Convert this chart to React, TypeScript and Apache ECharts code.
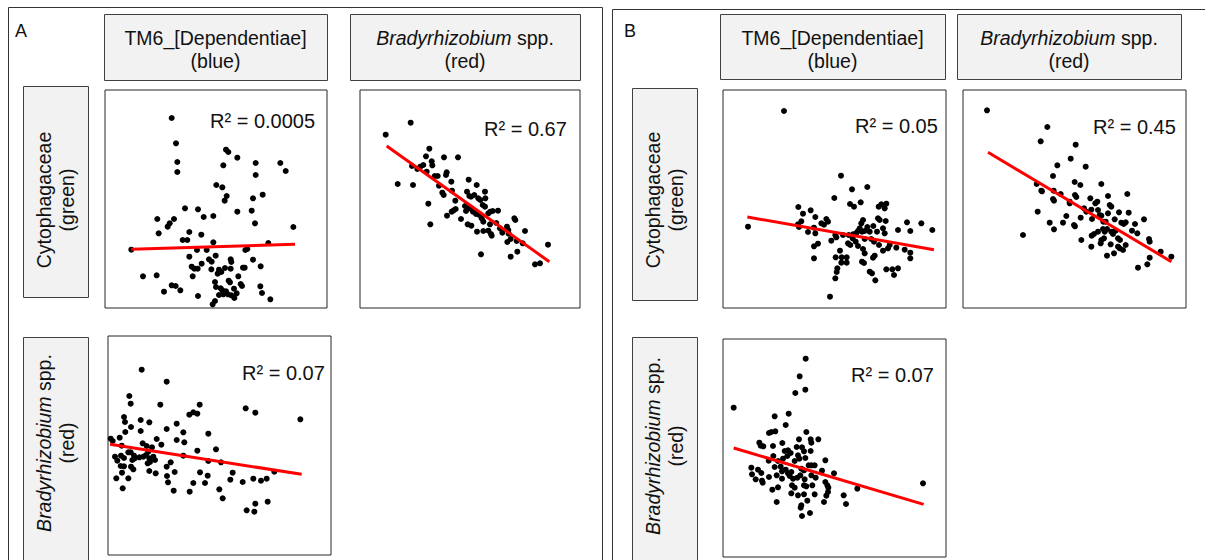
import React, { useEffect, useRef } from 'react';
import * as echarts from 'echarts';

const FONT = '"Liberation Sans", Arial, Helvetica, sans-serif';

// ---------- data (arbitrary abundance units) ----------
// Panel A: TM6 (x) vs Cytophagaceae (y)
const aTm6Cyto: number[][] = [
  [215,99],[228,175],[232,231],[232,261],[378,194],[385,201],[412,218],[370,241],[467,234],[467,270],
  [541,234],[557,258],[349,300],[367,307],[380,333],[374,347],[459,340],[488,329],[255,370],[294,373],
  [412,380],[455,377],[311,396],[340,393],[172,402],[222,402],[209,415],[203,425],[176,445],[268,441],
  [304,449],[465,415],[580,426],[248,465],[262,465],[340,472],[505,474],[94,494],[291,495],[320,495],
  [436,495],[442,492],[268,515],[347,512],[327,523],[335,530],[459,524],[392,523],[394,531],[275,545],
  [283,551],[293,551],[305,536],[334,553],[357,554],[353,566],[364,561],[375,549],[392,551],[429,548],
  [434,548],[482,544],[129,574],[170,571],[278,574],[415,574],[345,591],[386,587],[390,592],[422,597],
  [426,603],[215,601],[227,603],[241,616],[192,620],[348,606],[362,610],[367,616],[402,611],[410,625],
  [481,604],[486,624],[294,633],[357,630],[370,628],[384,628],[394,631],[403,639],[511,643],[345,648],
  [338,658],[378,619]
];
const aTm6CytoFit: number[][] = [[94,493],[585,478]];

// Panel A: Bradyrhizobium (x) vs Cytophagaceae (y)
const aBradyCyto: number[][] = [
  [92,149],[167,113],[128,297],[174,300],[223,191],[213,214],[230,229],[232,241],[267,217],[309,217],
  [171,243],[187,252],[196,245],[205,240],[215,260],[239,273],[248,273],[275,262],[273,270],[289,290],
  [252,302],[262,323],[266,330],[291,317],[301,347],[220,356],[226,418],[276,392],[290,380],[296,376],
  [302,372],[318,402],[341,284],[365,300],[336,320],[343,333],[348,335],[358,330],[370,340],[376,345],
  [390,320],[391,340],[383,360],[390,365],[330,363],[333,378],[340,370],[350,373],[360,380],[373,390],
  [380,400],[385,410],[400,385],[406,380],[413,378],[429,377],[338,418],[349,422],[366,440],[385,438],
  [400,437],[408,447],[410,452],[405,418],[424,414],[435,430],[442,443],[456,425],[460,435],[478,400],
  [481,405],[461,446],[467,462],[457,471],[485,468],[510,438],[503,475],[487,500],[467,515],[378,508],
  [579,479],[540,538],[555,535],[354,380],[363,387]
];
const aBradyCytoFit: number[][] = [[95,183],[583,530]];

// Panel A: TM6 (x) vs Bradyrhizobium (y)
const aTm6Brady: number[][] = [
  [125,119],[200,155],[88,198],[92,221],[181,224],[72,261],[75,276],[93,291],[122,270],[148,277],
  [122,303],[76,306],[59,323],[32,326],[38,333],[65,347],[128,340],[140,348],[156,352],[170,327],
  [184,344],[200,297],[230,281],[250,307],[230,330],[253,337],[268,254],[280,247],[292,251],[299,224],
  [325,311],[292,362],[348,358],[437,235],[466,248],[601,268],[45,380],[52,392],[63,377],[72,384],
  [85,367],[92,367],[102,377],[97,390],[104,385],[118,382],[130,380],[138,375],[145,365],[148,385],
  [150,396],[160,380],[165,390],[143,400],[62,408],[72,409],[93,410],[100,418],[66,428],[49,445],
  [85,445],[68,475],[148,423],[167,430],[200,410],[212,397],[224,426],[201,438],[204,457],[221,482],
  [269,485],[280,459],[250,377],[300,427],[323,437],[315,459],[325,393],[363,397],[398,428],[391,449],
  [358,478],[368,505],[428,456],[460,446],[483,452],[500,446],[523,425],[440,541],[466,521],[463,545],
  [503,515]
];
const aTm6BradyFit: number[][] = [[30,343],[605,433]];

// Panel B: TM6 (x) vs Cytophagaceae (y)
const bTm6Cyto: number[][] = [
  [198,78],[369,272],[402,313],[448,306],[349,339],[396,357],[408,365],[428,352],[90,425],[241,366],
  [255,386],[278,376],[292,396],[250,409],[240,418],[243,426],[270,441],[288,428],[292,445],[300,476],
  [288,484],[288,520],[310,415],[318,419],[325,402],[330,410],[340,467],[352,450],[355,457],[375,450],
  [390,475],[397,480],[392,450],[405,448],[415,444],[420,438],[425,430],[430,415],[435,405],[432,440],
  [440,438],[448,426],[455,440],[466,423],[477,440],[480,400],[485,405],[495,430],[500,445],[503,408],
  [482,365],[490,358],[505,356],[500,370],[483,480],[495,497],[510,490],[515,480],[535,488],[540,435],
  [567,412],[577,438],[610,415],[643,435],[560,494],[577,503],[577,520],[366,497],[353,517],[371,517],
  [386,517],[370,533],[386,533],[358,550],[356,561],[352,580],[336,635],[420,483],[435,492],[440,505],
  [432,530],[438,534],[465,518],[470,512],[455,560],[462,565],[472,586],[505,553],[523,553],[540,550],
  [528,570],[440,462],[460,462],[468,470],[413,470],[404,460]
];
const bTm6CytoFit: number[][] = [[88,396],[648,494]];

// Panel B: Bradyrhizobium (x) vs Cytophagaceae (y)
const bBradyCyto: number[][] = [
  [87,76],[268,126],[248,169],[353,179],[338,221],[298,241],[383,245],[285,273],[236,297],[250,317],
  [252,319],[287,317],[285,342],[288,347],[308,327],[350,291],[367,300],[351,330],[355,336],[335,350],
  [335,355],[430,297],[450,333],[508,327],[239,380],[275,413],[288,433],[195,450],[315,413],[325,393],
  [348,420],[351,424],[368,398],[378,370],[385,380],[397,340],[412,355],[418,350],[400,374],[420,375],
  [425,390],[402,402],[430,392],[436,410],[443,410],[455,360],[460,365],[450,385],[470,403],[483,382],
  [490,413],[497,417],[503,412],[512,383],[531,417],[558,403],[522,437],[538,445],[573,462],[575,470],
  [401,452],[408,447],[420,440],[435,432],[440,440],[447,432],[460,440],[465,447],[473,437],[480,460],
  [486,465],[430,465],[428,475],[438,460],[370,465],[400,485],[458,478],[447,512],[468,505],[480,485],
  [485,490],[495,495],[503,480],[540,548],[568,538],[575,518],[608,500],[640,515]
];
const bBradyCytoFit: number[][] = [[90,202],[640,530]];

// Panel B: TM6 (x) vs Bradyrhizobium (y)
const bTm6Brady: number[][] = [
  [263,80],[245,133],[262,173],[232,183],[47,227],[212,245],[170,253],[203,279],[153,303],[160,300],
  [172,298],[265,300],[124,332],[128,341],[136,343],[165,342],[193,333],[243,322],[278,322],[280,332],
  [301,322],[236,345],[252,346],[258,358],[278,357],[200,357],[210,355],[218,363],[166,372],[208,372],
  [195,380],[240,370],[244,380],[262,378],[322,385],[152,386],[180,387],[230,387],[272,400],[280,400],
  [290,400],[100,407],[120,413],[130,423],[170,405],[188,404],[192,418],[203,413],[210,424],[220,420],
  [250,410],[258,415],[102,427],[113,442],[132,446],[134,452],[153,435],[176,430],[192,440],[215,432],
  [225,440],[238,437],[247,430],[260,442],[280,430],[293,437],[312,416],[348,424],[322,450],[328,460],
  [163,473],[180,466],[222,460],[230,467],[258,460],[265,463],[283,460],[331,467],[330,480],[325,491],
  [220,484],[240,490],[258,487],[290,487],[268,506],[176,510],[250,520],[248,527],[318,510],[377,490],
  [384,516],[418,470],[252,552],[276,543],[615,454]
];
const bTm6BradyFit: number[][] = [[47,348],[617,517]];

const r2Labels = ['R² = 0.0005', 'R² = 0.67', 'R² = 0.07', 'R² = 0.05', 'R² = 0.45', 'R² = 0.07'];
const colLabels = ['TM6_[Dependentiae]', '(blue)'];
const panelLetters = ['A', 'B'];

// ---------- layout ----------
type Plot = {
  box: number[]; // left, top, right, bottom (px)
  xr: number[];
  yr: number[];
  data: number[][];
  fit: number[][];
  label: string;
  lx: number;
  ly: number;
};

const plots: Plot[] = [
  { box: [105, 90, 327, 308], xr: [15, 681], yr: [15, 669], data: aTm6Cyto, fit: aTm6CytoFit, label: r2Labels[0], lx: 210, ly: 121 },
  { box: [360, 90, 580, 308], xr: [15, 675], yr: [15, 669], data: aBradyCyto, fit: aBradyCytoFit, label: r2Labels[1], lx: 484, ly: 129 },
  { box: [108, 336, 331, 555], xr: [24, 693], yr: [18, 675], data: aTm6Brady, fit: aTm6BradyFit, label: r2Labels[2], lx: 242, ly: 373 },
  { box: [723, 90, 946, 308], xr: [15, 684], yr: [15, 669], data: bTm6Cyto, fit: bTm6CytoFit, label: r2Labels[3], lx: 855, ly: 126 },
  { box: [963, 90, 1186, 308], xr: [15, 684], yr: [15, 669], data: bBradyCyto, fit: bBradyCytoFit, label: r2Labels[4], lx: 1093, ly: 127 },
  { box: [723, 339, 946, 557], xr: [15, 684], yr: [21, 675], data: bTm6Brady, fit: bTm6BradyFit, label: r2Labels[5], lx: 851, ly: 375 },
];

const HDR_FILL = '#f2f2f2';
const HDR_STROKE = '#404040';
const HFS = 19.5;

function hdrRect(x1: number, y1: number, x2: number, y2: number) {
  return {
    type: 'rect',
    shape: { x: x1 + 0.5, y: y1 + 0.5, width: x2 - x1, height: y2 - y1 },
    style: { fill: HDR_FILL, stroke: HDR_STROKE, lineWidth: 1 },
    z: 1,
  };
}

function txt(text: string, x: number, y: number, opts: any = {}) {
  return {
    type: 'text',
    x,
    y,
    rotation: opts.rotation || 0,
    z: 5,
    style: {
      text,
      fill: '#111',
      fontSize: opts.fontSize || HFS,
      fontFamily: FONT,
      fontStyle: 'normal',
      textAlign: opts.align || 'center',
      textVerticalAlign: 'middle',
      align: opts.align || 'center',
      verticalAlign: 'middle',
      rich: {
        i: { fontStyle: 'italic', fontSize: opts.fontSize || HFS, fontFamily: FONT, fill: '#111' },
        n: { fontStyle: 'normal', fontSize: opts.fontSize || HFS, fontFamily: FONT, fill: '#111' },
      },
    },
  };
}

const BRADY_RICH = '{i|Bradyrhizobium}{n| spp.}';

function colHeader(x1: number, y1: number, x2: number, y2: number, l1: string, l2: string) {
  const cx = (x1 + x2) / 2;
  return [hdrRect(x1, y1, x2, y2), txt(l1, cx, 38), txt(l2, cx, 61)];
}

function rowHeader(x1: number, y1: number, x2: number, y2: number, cy: number, l1: string, l2: string) {
  const cx = (x1 + x2) / 2;
  return [
    hdrRect(x1, y1, x2, y2),
    txt(l1, cx - 12, cy, { rotation: Math.PI / 2 }),
    txt(l2, cx + 11, cy, { rotation: Math.PI / 2 }),
  ];
}

function buildOption() {
  const grid: any[] = [];
  const xAxis: any[] = [];
  const yAxis: any[] = [];
  const series: any[] = [];
  plots.forEach((p, i) => {
    const [l, t, r, b] = p.box;
    grid.push({
      left: l, top: t, width: r - l, height: b - t,
      show: true, borderColor: '#262626', borderWidth: 1, backgroundColor: '#fff', containLabel: false,
    });
    xAxis.push({ type: 'value', gridIndex: i, min: p.xr[0], max: p.xr[1], show: false });
    yAxis.push({ type: 'value', gridIndex: i, min: p.yr[0], max: p.yr[1], inverse: true, show: false });
    series.push({
      type: 'scatter', xAxisIndex: i, yAxisIndex: i, data: p.data, symbolSize: 6,
      itemStyle: { color: '#000', opacity: 1 }, z: 2, silent: true,
    });
    series.push({
      type: 'line', xAxisIndex: i, yAxisIndex: i, data: p.fit, symbol: 'none',
      lineStyle: { color: '#ff0000', width: 3, opacity: 1 }, z: 3, silent: true,
    });
  });

  const graphic: any[] = [
    { type: 'rect', shape: { x: 8.5, y: 7.5, width: 594, height: 600 }, style: { fill: 'none', stroke: '#333', lineWidth: 1 }, z: 0 },
    { type: 'rect', shape: { x: 612.5, y: 9.5, width: 700, height: 600 }, style: { fill: 'none', stroke: '#333', lineWidth: 1 }, z: 0 },
    txt(panelLetters[0], 15, 31, { fontSize: 18, align: 'left' }),
    txt(panelLetters[1], 624, 31, { fontSize: 18, align: 'left' }),
    ...colHeader(104, 14, 327, 80, colLabels[0], colLabels[1]),
    ...colHeader(350, 14, 580, 80, BRADY_RICH, '(red)'),
    ...colHeader(720, 14, 945, 79, colLabels[0], colLabels[1]),
    ...colHeader(957, 14, 1181, 79, BRADY_RICH, '(red)'),
    ...rowHeader(23, 86, 88, 297, 200, '{n|Cytophagaceae}', '(green)'),
    ...rowHeader(23, 337, 88, 620, 443, BRADY_RICH, '(red)'),
    ...rowHeader(632, 88, 697, 300, 200, '{n|Cytophagaceae}', '(green)'),
    ...rowHeader(632, 337, 697, 620, 446, BRADY_RICH, '(red)'),
  ];
  plots.forEach((p) => {
    graphic.push(txt(p.label, p.lx, p.ly, { fontSize: 20, align: 'left' }));
  });

  return { animation: false, backgroundColor: '#fff', grid, xAxis, yAxis, series, graphic };
}

export default function App() {
  const ref = useRef<HTMLDivElement>(null);
  useEffect(() => {
    if (!ref.current) return;
    const chart = echarts.init(ref.current, undefined, { renderer: 'svg' });
    chart.setOption(buildOption() as any);
    return () => chart.dispose();
  }, []);
  return (
    <div
      ref={ref}
      style={{ position: 'fixed', left: 0, top: 0, width: 1205, height: 560, background: '#fff' }}
    />
  );
}
